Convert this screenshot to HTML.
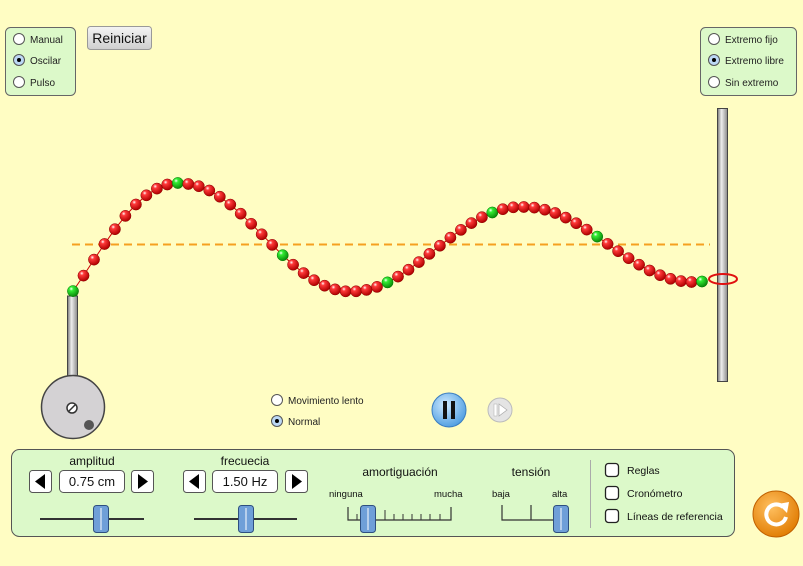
<!DOCTYPE html>
<html><head><meta charset="utf-8"><style>
body{margin:0;width:803px;height:566px;background:#fffdc3;font-family:"Liberation Sans",sans-serif;overflow:hidden}
svg{position:absolute;left:0;top:0}
</style></head><body>
<svg width="803" height="566" viewBox="0 0 803 566" font-family="Liberation Sans, sans-serif">
<defs>
<radialGradient id="rb" cx="0.35" cy="0.3" r="0.7"><stop offset="0" stop-color="#fff"/><stop offset="0.25" stop-color="#ff3a3a"/><stop offset="1" stop-color="#b00000"/></radialGradient>
<radialGradient id="gb" cx="0.35" cy="0.3" r="0.7"><stop offset="0" stop-color="#fff"/><stop offset="0.25" stop-color="#33ee33"/><stop offset="1" stop-color="#0a8a0a"/></radialGradient>
<linearGradient id="rod" x1="0" x2="1"><stop offset="0" stop-color="#777"/><stop offset="0.4" stop-color="#eee"/><stop offset="1" stop-color="#888"/></linearGradient>
<radialGradient id="blue" cx="0.4" cy="0.35" r="0.7"><stop offset="0" stop-color="#cfeaff"/><stop offset="1" stop-color="#4a9be0"/></radialGradient>
<radialGradient id="org" cx="0.4" cy="0.35" r="0.7"><stop offset="0" stop-color="#ffc060"/><stop offset="1" stop-color="#e07a00"/></radialGradient>
<linearGradient id="btn" x1="0" y1="0" x2="0" y2="1"><stop offset="0" stop-color="#f4f4f4"/><stop offset="1" stop-color="#cfcfcf"/></linearGradient>
</defs>
<!-- top left panel -->
<rect x="5.5" y="27.5" width="70" height="68" rx="5" fill="#dcf9c9" stroke="#666"/>
<g font-size="10" fill="#222">
<circle cx="19" cy="39" r="5.5" fill="#fff" stroke="#555"/><text x="30" y="43">Manual</text>
<circle cx="19" cy="60" r="5.5" fill="#bcd8f5" stroke="#555"/><circle cx="19" cy="60" r="2" fill="#000"/><text x="30" y="64">Oscilar</text>
<circle cx="19" cy="82" r="5.5" fill="#fff" stroke="#555"/><text x="30" y="86">Pulso</text>
</g>
<rect x="87.5" y="26.5" width="64" height="23" rx="3" fill="url(#btn)" stroke="#999"/>
<text x="119.5" y="43" font-size="14" text-anchor="middle" fill="#111">Reiniciar</text>
<!-- top right panel -->
<rect x="700.5" y="27.5" width="96" height="68" rx="5" fill="#dcf9c9" stroke="#666"/>
<g font-size="10" fill="#222">
<circle cx="714" cy="39" r="5.5" fill="#fff" stroke="#555"/><text x="725" y="43">Extremo fijo</text>
<circle cx="714" cy="60" r="5.5" fill="#bcd8f5" stroke="#555"/><circle cx="714" cy="60" r="2" fill="#000"/><text x="725" y="64">Extremo libre</text>
<circle cx="714" cy="82" r="5.5" fill="#fff" stroke="#555"/><text x="725" y="86">Sin extremo</text>
</g>
<!-- right pole -->
<rect x="717.5" y="108.5" width="10" height="273" fill="url(#rod)" stroke="#444"/>
<!-- dashed line -->
<line x1="72" y1="244.5" x2="710" y2="244.5" stroke="#f5a020" stroke-width="2" stroke-dasharray="8,5"/>
<!-- left rod & wheel -->
<rect x="67.5" y="296" width="10" height="92" fill="url(#rod)" stroke="#444"/>
<circle cx="73" cy="407" r="31.5" fill="#d4d2d4" stroke="#444" stroke-width="1.5"/>
<circle cx="72" cy="408" r="5" fill="#fff" stroke="#333" stroke-width="1.5"/>
<line x1="69" y1="411" x2="75" y2="405" stroke="#333" stroke-width="1.5"/>
<circle cx="89" cy="425" r="5" fill="#555"/>
<g id="beads"></g>
<ellipse cx="723" cy="279" rx="14" ry="5" fill="none" stroke="#e01010" stroke-width="2"/>
<!-- speed radios -->
<g font-size="10" fill="#222">
<circle cx="277" cy="400" r="5.5" fill="#fff" stroke="#555"/><text x="288" y="404">Movimiento lento</text>
<circle cx="277" cy="421" r="5.5" fill="#bcd8f5" stroke="#555"/><circle cx="277" cy="421" r="2" fill="#000"/><text x="288" y="425">Normal</text>
</g>
<circle cx="449" cy="410" r="17" fill="url(#blue)" stroke="#3a7cc0"/>
<rect x="443" y="401" width="4" height="18" fill="#111"/><rect x="451" y="401" width="4" height="18" fill="#111"/>
<circle cx="500" cy="410" r="12" fill="#e4e4e4" stroke="#bbb"/>
<rect x="494" y="404" width="3" height="12" fill="#fff" stroke="#aaa" stroke-width="0.5"/>
<path d="M499 404 L507 410 L499 416 Z" fill="#fff" stroke="#aaa" stroke-width="0.7"/>
<!-- bottom panel -->
<rect x="11.5" y="449.5" width="723" height="87" rx="8" fill="#dcf9c9" stroke="#555"/>
<g font-size="12" fill="#111" text-anchor="middle">
<text x="92" y="465">amplitud</text>
<text x="245" y="465">frecuecia</text>
<text x="400" y="476">amortiguación</text>
<text x="531" y="476">tensión</text>
</g>
<g id="steppers"></g>
<g font-size="9.5" fill="#111">
<text x="329" y="497">ninguna</text><text x="434" y="497">mucha</text>
<text x="492" y="497">baja</text><text x="552" y="497">alta</text>
</g>
<!-- sliders -->
<line x1="40" y1="519" x2="144" y2="519" stroke="#333" stroke-width="2"/>
<line x1="194" y1="519" x2="297" y2="519" stroke="#333" stroke-width="2"/>
<path d="M348 507 V520 H451 V507" fill="none" stroke="#333" stroke-width="1.2"/>
<path d="M357 520v-6M366 520v-6M375 520v-6M385 520v-10M394 520v-6M403 520v-6M412 520v-6M421 520v-6M430 520v-6M440 520v-6" stroke="#333"/>
<path d="M502 505 V520 H560 M531 520 V505" fill="none" stroke="#333" stroke-width="1.2"/>
<g fill="#6f9fd8" stroke="#2e4f80">
<rect x="93.5" y="505.5" width="15" height="27" rx="3"/>
<rect x="238.5" y="505.5" width="15" height="27" rx="3"/>
<rect x="360.5" y="505.5" width="15" height="27" rx="3"/>
<rect x="553.5" y="505.5" width="15" height="27" rx="3"/>
</g>
<path d="M101 508v22M246 508v22M368 508v22M561 508v22" stroke="#fff"/>
<line x1="590.5" y1="460" x2="590.5" y2="528" stroke="#aaa"/>
<g font-size="10.5" fill="#111">
<rect x="605.5" y="463.5" width="13" height="13" rx="3" fill="#fff" stroke="#222" stroke-width="1.3"/><text x="627" y="474">Reglas</text>
<rect x="605.5" y="486.5" width="13" height="13" rx="3" fill="#fff" stroke="#222" stroke-width="1.3"/><text x="627" y="497">Cronómetro</text>
<rect x="605.5" y="509.5" width="13" height="13" rx="3" fill="#fff" stroke="#222" stroke-width="1.3"/><text x="627" y="520">Líneas de referencia</text>
</g>
<circle cx="776" cy="514" r="23" fill="url(#org)" stroke="#c06000"/>
<path d="M783 507 A10 10 0 1 0 786 517" fill="none" stroke="#fff" stroke-width="4"/>
<path d="M778 504 L789 502 L787 513 Z" fill="#fff"/>
</svg>
<script>
var g=document.getElementById('beads'),ns='http://www.w3.org/2000/svg',s='';
function A(x){var p=[[73,85],[188,61],[360,46],[525,38],[702,37]];for(var i=0;i<p.length-1;i++){if(x<=p[i+1][0]){var t=(x-p[i][0])/(p[i+1][0]-p[i][0]);return p[i][1]+t*(p[i+1][1]-p[i][1]);}}return 37;}
var pts=[];for(var i=0;i<=60;i++){var x=73+i*(702-73)/60;var y=245-A(x)*Math.cos(2*Math.PI*(x-188)/337);pts.push([x,y]);}
s+='<polyline fill="none" stroke="#c00" stroke-width="1" points="'+pts.map(function(p){return p[0].toFixed(1)+','+p[1].toFixed(1)}).join(' ')+'"/>';
pts.forEach(function(p,i){s+='<circle cx="'+p[0].toFixed(1)+'" cy="'+p[1].toFixed(1)+'" r="5.6" fill="url(#'+(i%10==0?'gb':'rb')+')" stroke="'+(i%10==0?'#070':'#800')+'" stroke-width="0.5"/>';});
g.innerHTML=s;
var st=document.getElementById('steppers'),h='';
[[29,'0.75 cm',59,124,131],[183,'1.50 Hz',212,278,285]].forEach(function(a){
h+='<rect x="'+(a[0]+.5)+'" y="470.5" width="22" height="22" rx="3" fill="#fff" stroke="#555"/><path d="M'+(a[0]+16)+' 474 L'+(a[0]+6)+' 481.5 L'+(a[0]+16)+' 489Z" fill="#000"/>';
h+='<rect x="'+(a[2]+.5)+'" y="470.5" width="65" height="22" rx="4" fill="#fff" stroke="#555"/><text x="'+(a[2]+33)+'" y="486" font-size="13" text-anchor="middle" fill="#111">'+a[1]+'</text>';
h+='<rect x="'+(a[4]+.5)+'" y="470.5" width="22" height="22" rx="3" fill="#fff" stroke="#555"/><path d="M'+(a[4]+7)+' 474 L'+(a[4]+17)+' 481.5 L'+(a[4]+7)+' 489Z" fill="#000"/>';});
st.innerHTML=h;
</script>
</body></html>
